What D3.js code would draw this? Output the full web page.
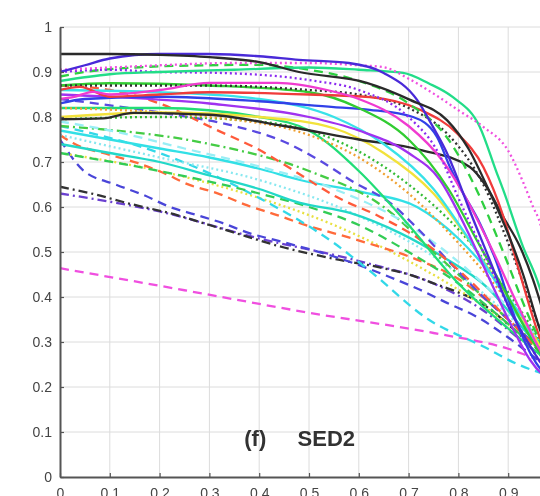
<!DOCTYPE html>
<html>
<head>
<meta charset="utf-8">
<script src="https://cdn.jsdelivr.net/npm/d3@7/dist/d3.min.js"></script>
<style>
  body { margin: 0; background: #fff; }
  svg { display: block; }
</style>
</head>
<body>
<svg id="chart" width="540" height="496"></svg>
<script>
// Precision–recall style curves, panel (f) SED2
const xTicks = [0, 0.1, 0.2, 0.3, 0.4, 0.5, 0.6, 0.7, 0.8, 0.9];
const yTicks = [0, 0.1, 0.2, 0.3, 0.4, 0.5, 0.6, 0.7, 0.8, 0.9, 1];
const xTickLabels = ["0", "0.1", "0.2", "0.3", "0.4", "0.5", "0.6", "0.7", "0.8", "0.9"];
const yTickLabels = ["0", "0.1", "0.2", "0.3", "0.4", "0.5", "0.6", "0.7", "0.8", "0.9", "1"];
const panelLetter = "(f)";
const panelName = "SED2";

// Each method: [recall, precision] pairs
const blackTop = [[0,.94],[.1,.94],[.2,.938],[.3,.933],[.4,.922],[.48,.90],[.616,.876],[.703,.838],[.777,.793],[.82,.73],[.86,.64],[.9,.54],[.93,.45],[.96,.34],[1,.22]];
const blueViolet = [[0,.90],[.05,.915],[.1,.93],[.2,.94],[.3,.94],[.4,.935],[.48,.927],[.58,.92],[.65,.898],[.717,.838],[.749,.778],[.777,.72],[.797,.667],[.82,.6],[.86,.49],[.9,.38],[.95,.28],[1,.2]];
const magentaDot = [[0,.905],[.1,.91],[.2,.915],[.35,.92],[.5,.92],[.6,.915],[.649,.911],[.7,.885],[.75,.852],[.8,.815],[.85,.778],[.9,.725],[.93,.655],[.95,.6],[.964,.564],[.98,.48],[1,.3]];
const tealTop = [[0,.88],[.1,.895],[.2,.90],[.35,.905],[.5,.91],[.6,.905],[.689,.898],[.74,.875],[.789,.844],[.843,.778],[.877,.676],[.89,.638],[.93,.511],[.958,.438],[.98,.36],[1,.28]];
const purpleDot = [[0,.90],[.1,.905],[.2,.90],[.32,.898],[.5,.882],[.6,.86],[.7,.80],[.76,.72],[.8,.62],[.85,.5],[.9,.38],[.95,.28],[1,.2]];
const greenDash = [[0,.89],[.05,.9],[.15,.91],[.3,.915],[.4,.916],[.5,.905],[.6,.88],[.7,.83],[.78,.75],[.84,.63],[.89,.5],[.94,.36],[1,.22]];
const magentaLine = [[0,.84],[.026,.844],[.066,.856],[.1,.85],[.2,.86],[.3,.876],[.436,.876],[.536,.86],[.6,.84],[.7,.78],[.77,.70],[.82,.61],[.87,.5],[.92,.38],[.97,.27],[1,.22]];
const redLine = [[0,.86],[.04,.867],[.1,.845],[.2,.85],[.3,.855],[.5,.85],[.622,.844],[.723,.816],[.797,.764],[.85,.689],[.89,.58],[.924,.45],[.96,.32],[1,.22]];
const blueLine = [[0,.83],[.05,.84],[.2,.845],[.4,.835],[.55,.822],[.622,.816],[.709,.80],[.757,.756],[.783,.689],[.803,.644],[.843,.564],[.877,.476],[.91,.364],[.944,.276],[1,.2]];
const purpleLine = [[0,.85],[.1,.845],[.3,.83],[.5,.80],[.6,.77],[.7,.72],[.763,.66],[.817,.549],[.857,.453],[.904,.342],[.944,.26],[1,.2]];
const greenLine = [[0,.87],[.1,.875],[.3,.87],[.5,.855],[.6,.82],[.7,.75],[.78,.64],[.84,.52],[.9,.4],[.95,.3],[1,.22]];
const cyanTop = [[0,.86],[.2,.855],[.4,.84],[.55,.80],[.65,.74],[.75,.64],[.82,.53],[.9,.39],[.96,.29],[1,.22]];
const yellowLine = [[0,.80],[.2,.81],[.4,.80],[.55,.775],[.65,.72],[.75,.63],[.85,.48],[.92,.36],[1,.24]];
const greenDot = [[0,.795],[.2,.80],[.4,.79],[.55,.75],[.7,.65],[.8,.55],[.9,.41],[1,.24]];
const orangeDot = [[0,.82],[.3,.80],[.5,.76],[.6,.71],[.7,.63],[.8,.52],[.9,.39],[1,.24]];
const blackDot = [[0,.87],[.3,.87],[.5,.86],[.6,.85],[.7,.82],[.78,.76],[.85,.65],[.9,.52],[.95,.37],[1,.22]];
const blackMid = [[0,.795],[.087,.797],[.147,.809],[.3,.805],[.45,.78],[.6,.75],[.723,.727],[.823,.689],[.857,.644],[.89,.578],[.924,.511],[.95,.438],[.98,.33],[1,.25]];
const cyanA = [[0,.77],[.1,.75],[.2,.73],[.3,.71],[.4,.685],[.482,.66],[.616,.631],[.717,.60],[.8,.53],[.88,.43],[.95,.32],[1,.24]];
const cyanB = [[0,.74],[.1,.72],[.2,.70],[.3,.67],[.4,.64],[.482,.609],[.582,.587],[.683,.542],[.769,.489],[.857,.422],[.93,.33],[1,.24]];
const greenMid = [[0,.82],[.2,.82],[.4,.80],[.5,.77],[.6,.68],[.7,.56],[.8,.43],[.9,.33],[1,.24]];
const greenDashMid = [[0,.72],[.2,.68],[.4,.63],[.5,.60],[.6,.56],[.7,.50],[.8,.43],[.9,.34],[1,.24]];
const redDashUpper = [[0,.87],[.1,.86],[.2,.83],[.315,.771],[.40,.727],[.468,.682],[.556,.622],[.643,.578],[.72,.53],[.8,.46],[.9,.35],[1,.24]];
const orangeDash = [[0,.76],[.026,.742],[.1,.716],[.155,.698],[.207,.676],[.26,.649],[.315,.631],[.375,.604],[.436,.582],[.482,.564],[.596,.527],[.703,.489],[.8,.44],[.9,.35],[1,.24]];
const blueDashSteep = [[0,.75],[.046,.682],[.114,.649],[.167,.627],[.221,.60],[.275,.582],[.327,.564],[.38,.542],[.448,.522],[.55,.49],[.663,.444],[.723,.416],[.777,.387],[.837,.356],[.9,.31],[.96,.26],[1,.23]];
const blackDashDot = [[0,.645],[.074,.627],[.134,.609],[.235,.582],[.30,.56],[.347,.544],[.45,.51],[.55,.485],[.649,.464],[.703,.449],[.749,.431],[.857,.378],[.93,.31],[1,.25]];
const magentaDashLow = [[0,.464],[.25,.415],[.5,.365],[.75,.32],[.9,.285],[.964,.26],[1,.25]];
const blueDashUpper = [[0,.84],[.2,.81],[.35,.78],[.45,.745],[.52,.704],[.59,.655],[.663,.609],[.72,.55],[.78,.48],[.85,.4],[.92,.33],[1,.24]];
const cyanDash = [[0,.78],[.2,.72],[.4,.62],[.55,.52],[.62,.46],[.74,.35],[.85,.29],[.92,.25],[1,.22]];
const paleCyanDash = [[0,.79],[.1,.77],[.25,.73],[.4,.69],[.55,.64],[.7,.56],[.85,.43],[1,.26]];
const paleCyanDot = [[0,.76],[.2,.71],[.4,.66],[.6,.58],[.75,.49],[.88,.38],[1,.25]];
const purpleDashDot = [[0,.63],[.2,.59],[.4,.53],[.6,.48],[.75,.43],[.85,.37],[.93,.3],[1,.24]];
const yellowDot = [[0,.72],[.2,.68],[.4,.62],[.55,.56],[.7,.48],[.85,.38],[1,.25]];
const greenDashDot = [[0,.78],[.3,.74],[.5,.68],[.65,.6],[.75,.5],[.85,.4],[.95,.3],[1,.25]];

// Drawing style for each method, from lowest layer to highest
const DASH = "9,6", DOT = "2,3", DASHDOT = "9,4,2,4";
const methods = [
  { pts: magentaDashLow, color: "#f04fe0", dash: DASH },
  { pts: purpleDashDot,  color: "#6a3fd0", dash: DASHDOT },
  { pts: blackDashDot,   color: "#333333", dash: DASHDOT },
  { pts: blueDashSteep,  color: "#4a45d8", dash: DASH },
  { pts: yellowDot,      color: "#e8e040", dash: DOT },
  { pts: orangeDash,     color: "#ff6a3a", dash: DASH },
  { pts: cyanDash,       color: "#33d8e8", dash: DASH },
  { pts: greenDashMid,   color: "#33cc55", dash: DASH },
  { pts: paleCyanDot,    color: "#88e8f0", dash: DOT },
  { pts: cyanB,          color: "#22d8c8", dash: null },
  { pts: cyanA,          color: "#33e0e6", dash: null },
  { pts: greenDashDot,   color: "#44cc44", dash: DASHDOT },
  { pts: paleCyanDash,   color: "#99eef5", dash: DASH },
  { pts: blueDashUpper,  color: "#5a4ae0", dash: DASH },
  { pts: redDashUpper,   color: "#ff5a3a", dash: DASH },
  { pts: greenMid,       color: "#22dd77", dash: null },
  { pts: greenDot,       color: "#33bb33", dash: DOT },
  { pts: orangeDot,      color: "#f0a030", dash: DOT },
  { pts: yellowLine,     color: "#f2e23a", dash: null },
  { pts: blackMid,       color: "#2a2a2a", dash: null },
  { pts: cyanTop,        color: "#38e2e8", dash: null },
  { pts: purpleLine,     color: "#a030f0", dash: null },
  { pts: blueLine,       color: "#3040e8", dash: null },
  { pts: greenLine,      color: "#30cc30", dash: null },
  { pts: blackDot,       color: "#333333", dash: DOT },
  { pts: redLine,        color: "#f03a3a", dash: null },
  { pts: magentaLine,    color: "#f03ad0", dash: null },
  { pts: greenDash,      color: "#2fcf3f", dash: DASH },
  { pts: purpleDot,      color: "#8a2af0", dash: DOT },
  { pts: tealTop,        color: "#22dd88", dash: null },
  { pts: magentaDot,     color: "#f050e0", dash: DOT },
  { pts: blueViolet,     color: "#4a2ad8", dash: null },
  { pts: blackTop,       color: "#2a2a2a", dash: null }
];

const svg = d3.select("#chart");
const x = d3.scaleLinear().domain([0, 1]).range([60, 558]);
const y = d3.scaleLinear().domain([0, 1]).range([477, 27]);

// Slight softening of the whole figure
const defs = svg.append("defs");
defs.append("filter").attr("id", "soft")
  .append("feGaussianBlur").attr("stdDeviation", 0.45);
defs.append("clipPath").attr("id", "plotClip")
  .append("rect").attr("x", x(0)).attr("y", y(1)).attr("width", x(1) - x(0)).attr("height", y(0) - y(1));

const root = svg.append("g").attr("filter", "url(#soft)");

// Grid
const grid = root.append("g").attr("stroke", "#dcdcdc").attr("stroke-width", 1);
grid.selectAll("line.v").data(xTicks.filter(d => d > 0)).join("line")
  .attr("x1", d => x(d)).attr("x2", d => x(d)).attr("y1", y(0)).attr("y2", y(1));
grid.selectAll("line.h").data(yTicks.filter(d => d > 0)).join("line")
  .attr("x1", x(0)).attr("x2", x(1)).attr("y1", d => y(d)).attr("y2", d => y(d));

// Curves
const line = d3.line().x(d => x(d[0])).y(d => y(d[1])).curve(d3.curveMonotoneX);
root.append("g").attr("clip-path", "url(#plotClip)")
  .selectAll("path").data(methods).join("path")
  .attr("d", d => line(d.pts))
  .attr("fill", "none")
  .attr("stroke", d => d.color)
  .attr("stroke-width", 2.3)
  .attr("stroke-dasharray", d => d.dash)
  .attr("stroke-linejoin", "round");

// Axes
const yAxis = d3.axisLeft(y).tickValues(yTicks).tickFormat((d, i) => yTickLabels[i])
  .tickSizeInner(-4).tickSizeOuter(0).tickPadding(8);
const xAxis = d3.axisBottom(x).tickValues(xTicks).tickFormat((d, i) => xTickLabels[i])
  .tickSizeInner(-4).tickSizeOuter(0).tickPadding(8);
const gy = root.append("g").attr("transform", `translate(${x(0)},0)`).call(yAxis);
const gx = root.append("g").attr("transform", `translate(0,${y(0)})`).call(xAxis);
[gy, gx].forEach(g => {
  g.select(".domain").attr("stroke", "#555").attr("stroke-width", 2);
  g.selectAll(".tick line").attr("stroke", "#555").attr("stroke-width", 1.2);
  g.selectAll(".tick text").attr("fill", "#444").attr("font-size", 14)
    .attr("font-family", "'Liberation Sans', Arial, sans-serif");
});
gx.selectAll(".tick text").attr("dy", "0.9em");

// Panel title
const titleFont = { "font-family": "'Liberation Sans', Arial, sans-serif", "font-weight": "bold", "font-size": 22, "fill": "#333" };
[[panelLetter, x(0.37)], [panelName, x(0.477)]].forEach(([txt, px]) => {
  const t = root.append("text").attr("x", px).attr("y", 446).text(txt);
  Object.entries(titleFont).forEach(([k, v]) => t.attr(k, v));
});
</script>
</body>
</html>
